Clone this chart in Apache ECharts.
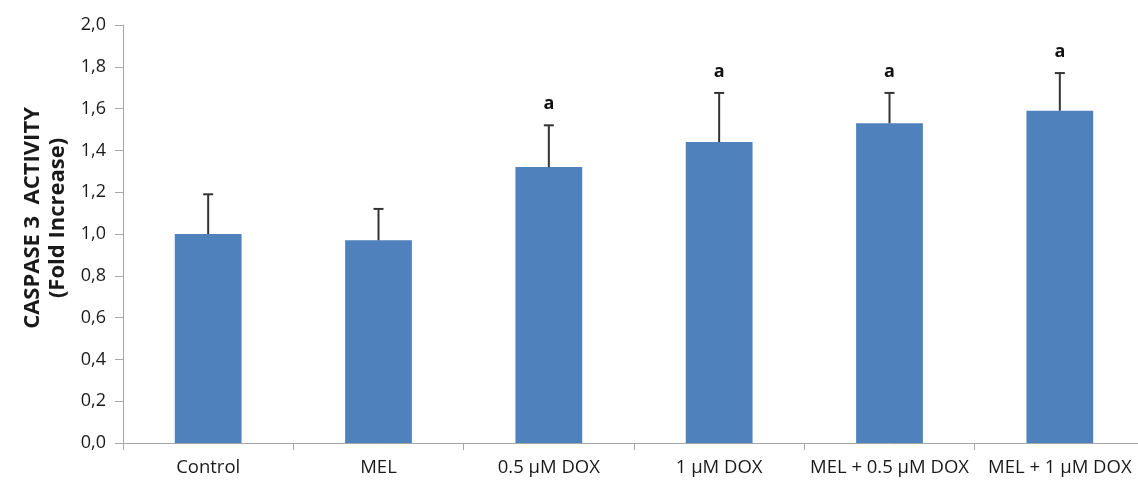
<!DOCTYPE html>
<html>
<head>
<meta charset="utf-8">
<script src="https://cdn.jsdelivr.net/npm/echarts@6/dist/echarts.min.js"></script>
<style>
  html, body { margin: 0; padding: 0; background: #fff; overflow: hidden; }
  /* the plot area runs slightly past the right edge of the window */
  #chart { width: 1160px; height: 480px; }
</style>
</head>
<body>
<div id="chart"></div>
<script>
// Caspase 3 activity (fold increase) per treatment group, mean + SD
const categories = ['Control', 'MEL', '0.5 µM DOX', '1 µM DOX', 'MEL + 0.5 µM DOX', 'MEL + 1 µM DOX'];
const means = [1.00, 0.97, 1.32, 1.44, 1.53, 1.59];
const errors = [0.19, 0.15, 0.20, 0.235, 0.145, 0.18];
const sigLetters = ['', '', 'a', 'a', 'a', 'a'];
const yTicks = { min: 0, max: 2.0, interval: 0.2 };

const FONT = '"Open Sans", "Liberation Sans", sans-serif';
const AXIS_GRAY = '#a6a6a6';

const chart = echarts.init(document.getElementById('chart'), null, { renderer: 'canvas' });

const errData = categories.map((c, i) => [i, means[i], means[i] + errors[i], sigLetters[i]]);

chart.setOption({
  animation: false,
  backgroundColor: '#ffffff',
  grid: { left: 123, top: 25, width: 1022, height: 418, containLabel: false },
  xAxis: {
    type: 'category',
    data: categories,
    axisLine: { lineStyle: { color: AXIS_GRAY, width: 1 } },
    axisTick: { show: true, length: 7, lineStyle: { color: AXIS_GRAY } },
    axisLabel: { color: '#1a1a1a', fontFamily: FONT, fontSize: 18.5, margin: 15, interval: 0 }
  },
  yAxis: {
    type: 'value',
    min: yTicks.min,
    max: yTicks.max,
    interval: yTicks.interval,
    axisLine: { show: true, lineStyle: { color: AXIS_GRAY, width: 1 } },
    axisTick: { show: true, length: 8, lineStyle: { color: AXIS_GRAY } },
    splitLine: { show: false },
    axisLabel: {
      color: '#1a1a1a', fontFamily: FONT, fontSize: 18, margin: 17,
      formatter: v => v.toFixed(1).replace('.', ',')
    }
  },
  graphic: [{
    type: 'text',
    x: 45, y: 218,
    rotation: Math.PI / 2,
    style: {
      text: 'CASPASE 3  ACTIVITY\n(Fold Increase)',
      fill: '#1a1a1a',
      font: 'bold 22px ' + FONT,
      align: 'center',
      verticalAlign: 'middle',
      lineHeight: 25
    }
  }],
  series: [
    {
      type: 'bar',
      data: means,
      barWidth: '39.2%',
      itemStyle: { color: '#4f81bd' },
      z: 2
    },
    {
      type: 'custom',
      data: errData,
      z: 3,
      renderItem: function (params, api) {
        const i = api.value(0);
        const base = api.coord([i, api.value(1)]);
        const top = api.coord([i, api.value(2)]);
        const capHalf = 5;
        const style = { stroke: '#333333', lineWidth: 2 };
        const children = [
          { type: 'line', shape: { x1: base[0], y1: base[1], x2: top[0], y2: top[1] }, style: style },
          { type: 'line', shape: { x1: top[0] - capHalf, y1: top[1], x2: top[0] + capHalf, y2: top[1] }, style: style }
        ];
        const letter = errData[params.dataIndex][3];
        if (letter) {
          children.push({
            type: 'text',
            x: top[0], y: top[1] - 21,
            style: {
              text: letter, fill: '#111111',
              font: 'bold 18px ' + FONT,
              align: 'center', verticalAlign: 'middle'
            }
          });
        }
        return { type: 'group', children: children };
      }
    }
  ]
});
</script>
</body>
</html>
